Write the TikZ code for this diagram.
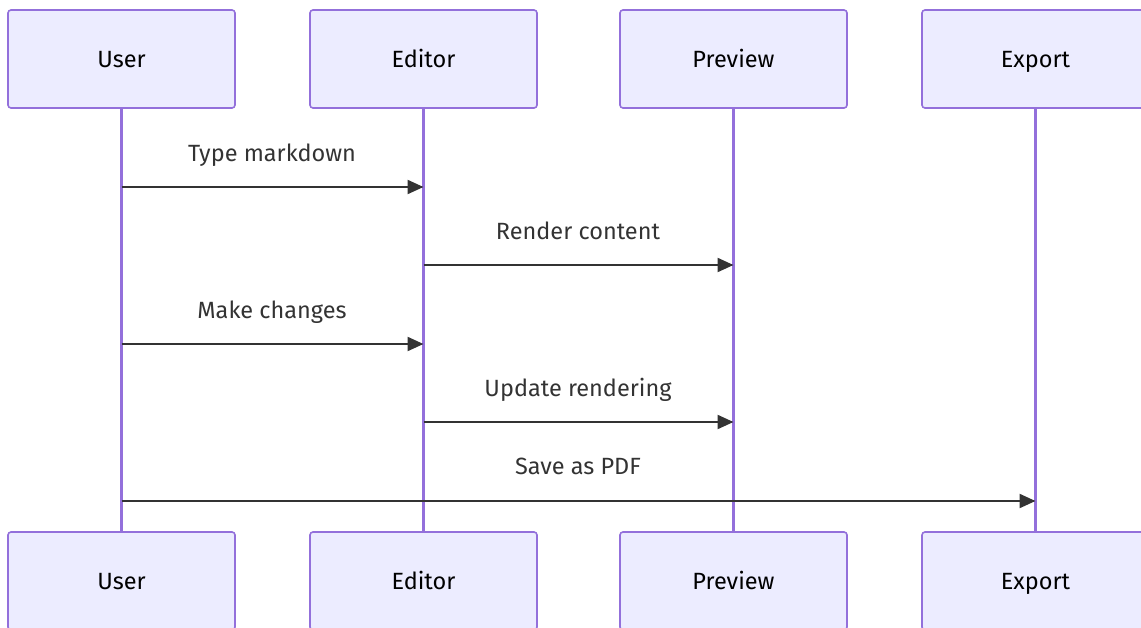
\documentclass[tikz,border=0pt]{standalone}
\usepackage{fontspec}
\setmainfont{Fira Sans}
\usetikzlibrary{arrows.meta}
\definecolor{actfill}{HTML}{ECECFF}
\definecolor{actline}{HTML}{9370DB}
\definecolor{msgcol}{HTML}{333333}
\tikzset{
  actor/.style={draw=actline, fill=actfill, line width=1.6pt, rounded corners=3pt,
    minimum width=227pt, minimum height=98pt, inner sep=0pt, text height=22pt, text depth=5pt,
    font=\fontsize{23.5}{28}\selectfont, text=black},
  lifeline/.style={draw=actline, line width=3pt},
  msg/.style={draw=msgcol, line width=2.2pt, -{Triangle[length=16pt,width=14pt]}},
  msglabel/.style={text=msgcol, font=\fontsize{23.5}{28}\selectfont, inner sep=0pt, text height=22pt, text depth=5pt}
}
\begin{document}
\begin{tikzpicture}[x=1pt,y=1pt]
\useasboundingbox (0,0) rectangle (1141,-627);
\clip (0,0) rectangle (1141,-627);
\node[actor] (u1) at (121.5,-59) {User};
\node[actor] (e1) at (423.5,-59) {Editor};
\node[actor] (p1) at (733.5,-59) {Preview};
\node[actor] (x1) at (1035.5,-59) {Export};
\node[actor] (u2) at (121.5,-581) {User};
\node[actor] (e2) at (423.5,-581) {Editor};
\node[actor] (p2) at (733.5,-581) {Preview};
\node[actor] (x2) at (1035.5,-581) {Export};
\draw[lifeline] (u1.south) -- (u2.north);
\draw[lifeline] (e1.south) -- (e2.north);
\draw[lifeline] (p1.south) -- (p2.north);
\draw[lifeline] (x1.south) -- (x2.north);
\draw[msg] (u1.south |- 0,-187) -- (e1.south |- 0,-187);
\node[msglabel] (l1) at (272,-153) {Type markdown};
\draw[msg] (e1.south |- 0,-265) -- (p1.south |- 0,-265);
\node[msglabel] (l2) at (578,-231) {Render content};
\draw[msg] (u1.south |- 0,-344) -- (e1.south |- 0,-344);
\node[msglabel] (l3) at (272,-310) {Make changes};
\draw[msg] (e1.south |- 0,-422) -- (p1.south |- 0,-422);
\node[msglabel] (l4) at (578,-388) {Update rendering};
\draw[msg] (u1.south |- 0,-501) -- (x1.south |- 0,-501);
\node[msglabel] (l5) at (578,-466) {Save as PDF};
\end{tikzpicture}
\end{document}
